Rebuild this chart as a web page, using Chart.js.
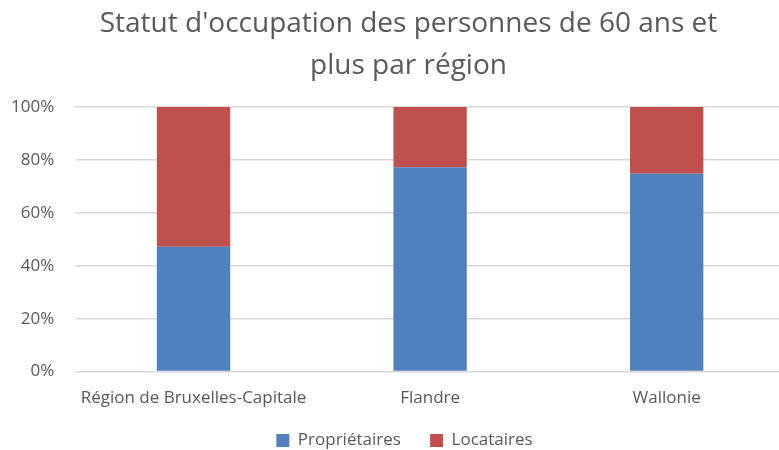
<!DOCTYPE html>
<html>
<head>
<meta charset="utf-8">
<script src="https://cdn.jsdelivr.net/npm/chart.js@4"></script>
<style>
  html, body { margin: 0; padding: 0; background: #fff; overflow: hidden; }
  #wrap { width: 785px; height: 450px; }
</style>
</head>
<body>
<div id="wrap"><canvas id="grafico"></canvas></div>
<script>
// données
const regions = ['Région de Bruxelles-Capitale', 'Flandre', 'Wallonie'];
const proprietaires = [47.2, 77.2, 74.8];
const locataires = [52.8, 22.8, 25.2];
const ticksPct = [0, 20, 40, 60, 80, 100];

const police = "'Open Sans', 'Liberation Sans', sans-serif";
const gris = '#595959';

// titre et légende un peu décalés vers la droite dans l'original
const decalage = {
  id: 'decalage',
  afterLayout(chart) {
    if (chart.titleBlock) chart.titleBlock.left = 32;
    if (chart.legend) chart.legend.left += 34;
  },
};

new Chart(document.getElementById('grafico'), {
  type: 'bar',
  data: {
    labels: regions,
    datasets: [
      { label: 'Propriétaires', data: proprietaires, backgroundColor: '#4F81BD' },
      { label: 'Locataires', data: locataires, backgroundColor: '#C0504D' },
    ],
  },
  plugins: [decalage],
  options: {
    responsive: true,
    maintainAspectRatio: false,
    animation: false,
    barPercentage: 0.31,
    categoryPercentage: 1,
    layout: { padding: { left: -10, right: 0, top: 0, bottom: -9 } },
    plugins: {
      title: {
        display: true,
        text: ["Statut d'occupation des personnes de 60 ans et", 'plus par région'],
        color: gris,
        font: { family: police, size: 28, weight: 'normal', lineHeight: 1.5 },
        padding: { top: 3, bottom: 20 },
      },
      legend: {
        position: 'bottom',
        labels: {
          color: gris,
          font: { family: police, size: 17 },
          boxWidth: 13,
          boxHeight: 13,
          padding: 16,
          generateLabels: (chart) => {
            const items = Chart.defaults.plugins.legend.labels.generateLabels(chart);
            items[0].text += '   ';
            return items;
          },
        },
      },
      tooltip: { enabled: false },
    },
    scales: {
      x: {
        stacked: true,
        grid: { display: false },
        border: { display: false },
        ticks: { color: gris, font: { family: police, size: 17 }, padding: 8, maxRotation: 0 },
        afterFit: (axe) => { axe.paddingLeft = 0; axe.paddingRight = 0; },
      },
      y: {
        stacked: true,
        min: 0,
        max: 100,
        afterBuildTicks: (axe) => { axe.ticks = ticksPct.map(v => ({ value: v })); },
        grid: { color: '#d9d9d9', lineWidth: 1.5, drawTicks: false },
        border: { display: false },
        ticks: { color: gris, font: { family: police, size: 17 }, padding: 21, callback: v => v + '%' },
      },
    },
  },
});
</script>
</body>
</html>
